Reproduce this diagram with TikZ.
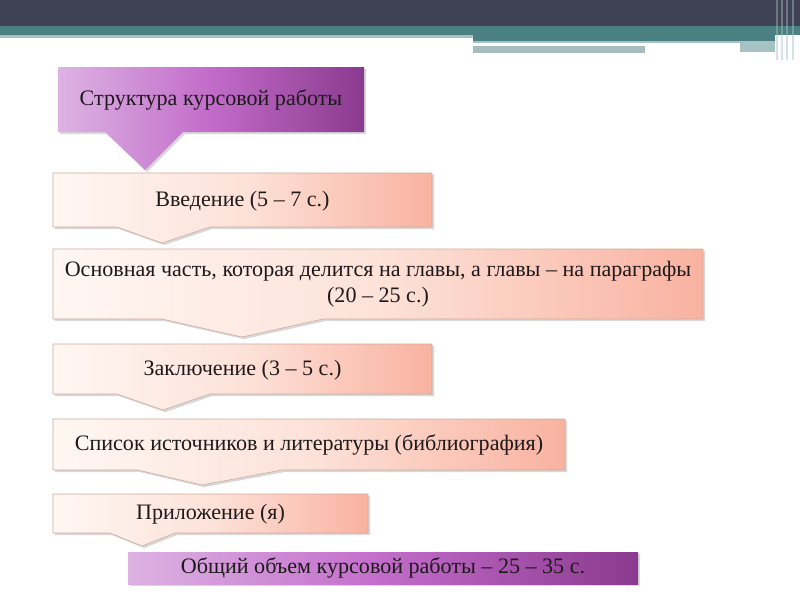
\documentclass[tikz,border=0pt]{standalone}
\usepackage{fontspec}
\setmainfont{Liberation Serif}
\usetikzlibrary{shadows}

\definecolor{barDark}{HTML}{3F4155}
\definecolor{barTeal}{HTML}{4A8082}
\definecolor{barLight}{HTML}{A6C2C3}
\definecolor{barGrey}{HTML}{A9BDBF}
\definecolor{pinkL}{HTML}{FFF7F3}
\definecolor{pinkM}{HTML}{FDE2D9}
\definecolor{pinkR}{HTML}{F9B2A0}
\definecolor{pinkEdge}{HTML}{CDAA9E}
\definecolor{purpL}{HTML}{DDB3E3}
\definecolor{purpM}{HTML}{C26CCA}
\definecolor{purpR}{HTML}{8A3A8E}
\definecolor{ink}{HTML}{1E1A1C}

\tikzset{
  pinkbox/.style={draw=pinkEdge, line width=0.4pt, left color=pinkL, right color=pinkR, middle color=pinkM,
    drop shadow={shadow xshift=1.5pt, shadow yshift=-1.5pt, opacity=0.3}},
  purplebox/.style={left color=purpL, right color=purpR, middle color=purpM,
    drop shadow={shadow xshift=1.5pt, shadow yshift=-1.5pt, opacity=0.3}},
  boxtext/.style={font=\fontsize{15.7}{18.5}\selectfont, text=ink, align=center, inner sep=0pt}
}

\begin{document}
\begin{tikzpicture}[x=0.025cm, y=-0.025cm]
  \useasboundingbox (0,0) rectangle (800,600);
  \fill[white] (0,0) rectangle (800,600);

  % Header bars
  \fill[barDark] (0,0) rectangle (800,26);
  \fill[barTeal] (0,26) rectangle (800,35);
  \fill[barLight] (0,35) rectangle (473,38);
  \fill[barTeal] (473,35) rectangle (775,41);
  \fill[barLight] (473,41) rectangle (740,43);
  \fill[barGrey] (473,46) rectangle (645,53);
  \fill[barLight] (740,41) rectangle (775,52);
  \foreach \xs/\tone in {776/barGrey, 781/barLight, 786/barGrey, 792/barLight}
    \fill[\tone, opacity=0.45] (\xs,0) rectangle (\xs+1.5,60);

  % Title callout
  \path[purplebox] (58,67) -- (364,67) -- (364,132) -- (183,132) -- (145,170) -- (105,132) -- (58,132) -- cycle;
  \node[boxtext] (title) at (211,100) {Структура курсовой работы};

  % Sections with pointers
  \path[pinkbox] (53,173) -- (432,173) -- (432,227) -- (210,227) -- (162,243) -- (117,227) -- (53,227) -- cycle;
  \node[boxtext] (intro) at (242.5,201) {Введение (5 – 7 с.)};

  \path[pinkbox] (53,249) -- (703,249) -- (703,319) -- (323,319) -- (242,337) -- (162,319) -- (53,319) -- cycle;
  \node[boxtext] (main) at (378,284) {Основная часть, которая делится на главы, а главы – на параграфы\\(20 – 25 с.)};

  \path[pinkbox] (53,344) -- (432,344) -- (432,394) -- (210,394) -- (163,410) -- (117,394) -- (53,394) -- cycle;
  \node[boxtext] (concl) at (242.5,370) {Заключение (3 – 5 с.)};

  \path[pinkbox] (53,419) -- (565,419) -- (565,470) -- (282,470) -- (202,485) -- (138,470) -- (53,470) -- cycle;
  \node[boxtext] (biblio) at (309,445) {Список источников и литературы (библиография)};

  \path[pinkbox] (53,494) -- (368,494) -- (368,533) -- (175,533) -- (142,546) -- (110,533) -- (53,533) -- cycle;
  \node[boxtext] (annex) at (210.5,514) {Приложение (я)};

  % Total volume
  \path[purplebox] (128,552) rectangle (638,584);
  \node[boxtext] (total) at (383,568) {Общий объем курсовой работы – 25 – 35 с.};
\end{tikzpicture}
\end{document}
